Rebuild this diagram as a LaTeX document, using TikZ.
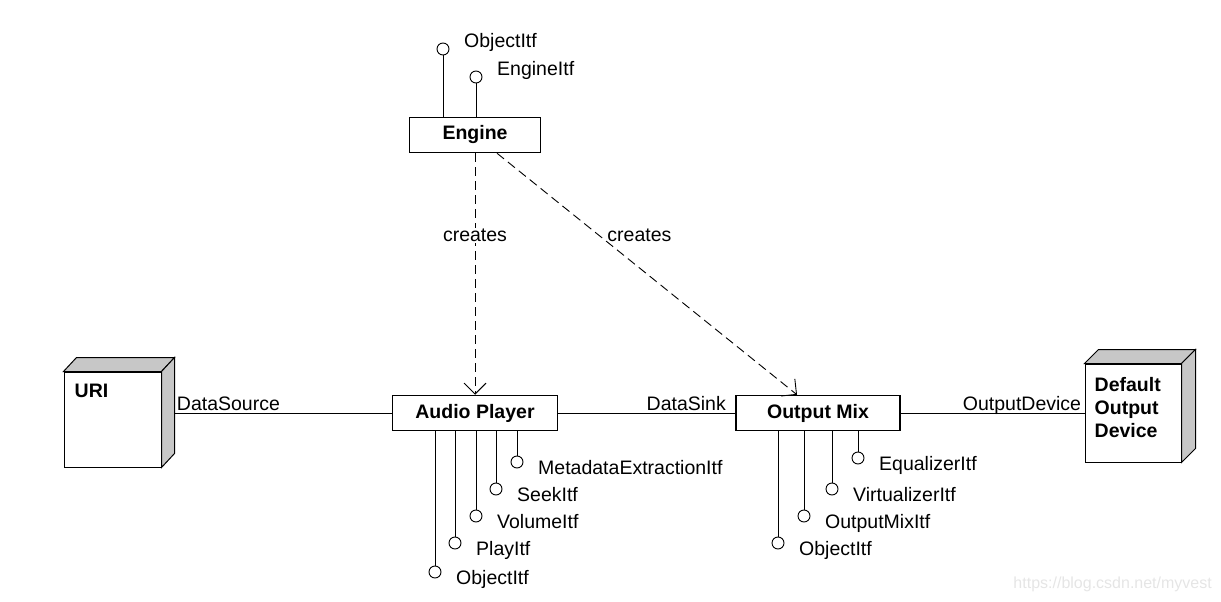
\documentclass[tikz,border=0pt]{standalone}
\usepackage{fontspec}
\setmainfont{Liberation Sans}
\usetikzlibrary{positioning,calc,arrows.meta}

\begin{document}
\begin{tikzpicture}[x=1pt, y=-1pt,
    every node/.style={font=\fontsize{19.5}{23}\selectfont},
    object/.style={rectangle, draw, line width=1.5pt, fill=white, inner sep=0pt,
    minimum height=35pt, font=\fontsize{19.5}{23}\selectfont\bfseries},
    device/.style={rectangle, draw, line width=1pt, fill=white, inner sep=0pt},
    devname/.style={inner sep=0pt, align=left, font=\fontsize{19.5}{23}\selectfont\bfseries},
    face/.style={draw, line width=1pt, fill=black!22},
    itf/.style={circle, draw, line width=0.9pt, fill=white, inner sep=0pt, minimum size=12pt},
    itfname/.style={anchor=base west, inner sep=0pt},
    wire/.style={line width=0.9pt},
    creates/.style={line width=0.9pt, dash pattern=on 9pt off 5pt,
    -{Straight Barb[length=11pt,width=22pt,line width=0.9pt]}}
    ]
\useasboundingbox (0,0) rectangle (1221,602);
\node[object, minimum width=131pt] (engine) at (475,135) {Engine};
\node[object, minimum width=165pt] (player) at (475,413) {Audio Player};
\node[object, minimum width=164pt] (mix) at (818,413) {Output Mix};
\node[device, minimum width=97pt, minimum height=95pt] (uri) at (112.5,419.5) {};
\node[device, minimum width=96pt, minimum height=98pt] (dev) at (1133,413) {};
\draw[face] (uri.north west) -- ([shift={(13,-14)}]uri.north west)
  -- ([shift={(13,-14)}]uri.north east) -- (uri.north east) -- cycle;
\draw[face] (uri.north east) -- ([shift={(13,-14)}]uri.north east)
  -- ([shift={(13,-14)}]uri.south east) -- (uri.south east) -- cycle;
\draw[face] (dev.north west) -- ([shift={(14,-14)}]dev.north west)
  -- ([shift={(14,-14)}]dev.north east) -- (dev.north east) -- cycle;
\draw[face] (dev.north east) -- ([shift={(14,-14)}]dev.north east)
  -- ([shift={(14,-14)}]dev.south east) -- (dev.south east) -- cycle;
\node[devname, anchor=base west] (urilabel) at ($(uri.north west)+(11,26)$) {URI};
\node[devname, anchor=north west] (devlabel) at ($(dev.north west)+(10,14)$) {Default\\Output\\Device};
\coordinate (urijack) at ($(uri.east |- player.west)+(13,0)$);
\draw[wire] (urijack) -- node[pos=0, anchor=base west, inner sep=0pt, xshift=2pt, yshift=3pt] {DataSource} (player);
\draw[wire] (player) -- node[pos=1, anchor=base east, inner sep=0pt, xshift=-9pt, yshift=3pt] {DataSink} (mix);
\draw[wire] (mix) -- node[pos=1, anchor=base east, inner sep=0pt, xshift=-3pt, yshift=3pt] {OutputDevice} (dev);
\draw[creates] (engine) -- node[pos=0.34, fill=white, inner sep=1pt] {creates} (player);
\draw[creates] ([xshift=22pt]engine.south) -- node[pos=0.34, anchor=west, inner sep=0pt, xshift=8pt] {creates} ([xshift=-21pt]mix.north);
\foreach \x/\y/\name [count=\i] in {443/49/ObjectItf, 476/77/EngineItf} {
  \node[itf] (ei\i) at (\x,\y) {};
  \draw[wire] (ei\i) -- (ei\i |- engine.north);
  \node[itfname] (en\i) at ($(ei\i)+(21,-1)$) {\name};
}
\foreach \x/\y/\name [count=\i] in {435/572/ObjectItf, 455/543/PlayItf, 476/516/VolumeItf,
    496/489/SeekItf, 517/462/MetadataExtractionItf} {
  \node[itf] (pi\i) at (\x,\y) {};
  \draw[wire] (pi\i) -- (pi\i |- player.south);
  \node[itfname] (pn\i) at ($(pi\i)+(21,12)$) {\name};
}
\foreach \x/\y/\name [count=\i] in {778/543/ObjectItf, 804/516/OutputMixItf,
    832/489/VirtualizerItf, 858/458/EqualizerItf} {
  \node[itf] (mi\i) at (\x,\y) {};
  \draw[wire] (mi\i) -- (mi\i |- mix.south);
  \node[itfname] (mn\i) at ($(mi\i)+(21,12)$) {\name};
}
\node[anchor=base east, inner sep=0pt, text=black!10, font=\fontsize{16}{18}\selectfont] (mark) at (1212,588) {https://blog.csdn.net/myvest};
\end{tikzpicture}
\end{document}
